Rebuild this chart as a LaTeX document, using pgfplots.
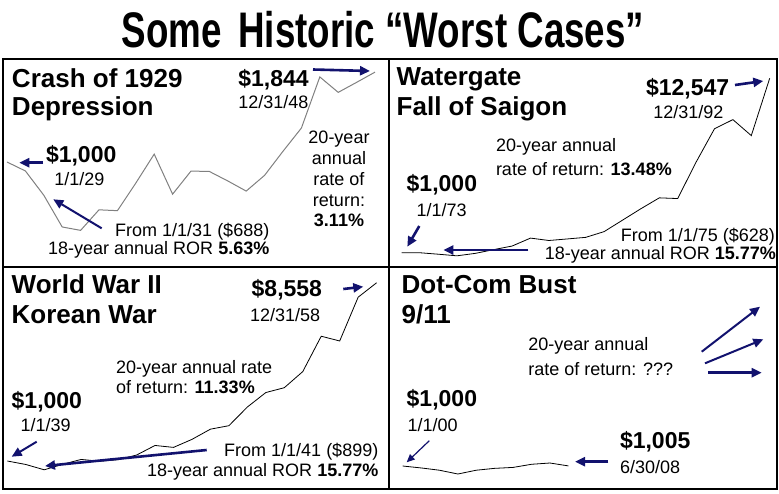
\documentclass[border=0pt]{standalone}
\usepackage{pgfplots}
\pgfplotsset{compat=1.18}
\usepackage{graphicx}
\usepackage{fontspec}
\setmainfont{Liberation Sans}
\usetikzlibrary{arrows.meta}
\definecolor{navy}{RGB}{18,18,110}
\newcommand\rg{\fontsize{18pt}{20pt}\selectfont}
\newcommand\bg{\fontsize{23pt}{25pt}\selectfont\bfseries}
\newcommand\hd{\fontsize{26pt}{28pt}\selectfont\bfseries}
\pgfplotsset{panel/.style={anchor=south west, scale only axis, hide axis, clip=false}}
\begin{document}
\begin{tikzpicture}
% Panel 1: 1929-1948 (index = year offset)
\begin{axis}[panel, at={(3pt,-267pt)}, width=386pt, height=208pt,
  xmin=-0.217, xmax=20.76, ymin=14.05, ymax=1967.2]
\addplot[gray, line width=1pt] table {
0 1000
1 916
2 688
3 390
4 358
5 551
6 543
7 802
8 1074
9 698
10 915
11 911
12 822
13 727
14 875
15 1101
16 1319
17 1799
18 1654
19 1748
20 1844
};
\end{axis}
% Panel 2
\begin{axis}[panel, at={(389pt,-267pt)}, width=388pt, height=208pt,
  xmin=-0.690, xmax=20.397, ymin=53.3, ymax=13823]
\addplot[black, line width=0.8pt] table {
0 1000
1 996
2 899
3 794
4 956
5 1204
6 1441
7 1967
8 1808
9 1911
10 2016
11 2395
12 3154
13 3912
14 4631
15 4585
16 6997
17 9206
18 9810
19 8752
20 12547
};
\end{axis}
% Panel 3
\begin{axis}[panel, at={(3pt,-489pt)}, width=386pt, height=222pt,
  xmin=-0.233, xmax=20.67, ymin=-187.2, ymax=9225.6]
\addplot[black, line width=0.8pt] table {
0 1000
1 853
2 627
3 861
4 1067
5 990
6 1056
7 1252
8 1659
9 1577
10 1917
11 2350
12 2497
13 3289
14 3903
15 4108
16 4791
17 6290
18 6089
19 7946
20 8558
};
\end{axis}
% Panel 4
\begin{axis}[panel, at={(389pt,-489pt)}, width=388pt, height=222pt,
  xmin=-0.745, xmax=20.34, ymin=-81, ymax=10353]
\addplot[black, line width=0.8pt] table {
0 1000
1 909
2 801
3 624
4 803
5 890
6 934
7 1081
8 1141
9 1005
};
\end{axis}
\begin{scope}[x=1pt,y=-1pt, T/.style={inner sep=0pt, outer sep=0pt},
  ar/.style={navy, line width=2.6pt, -{Triangle[length=10pt,width=9pt]}}]
\draw[line width=1.5pt] (3,59) rectangle (777,489);
\draw[line width=1.5pt] (389,59) -- (389,489);
\draw[line width=1.5pt] (3,267) -- (777,267);
% title
\node[T, anchor=base] at (383,47) {\fontsize{50pt}{50pt}\selectfont\scalebox{0.735}[1]{\bfseries Some\hspace{0.45em}Historic “Worst Cases”}};
% panel 1
\node[T, anchor=base west] at (12,87) {\hd Crash of 1929};
\node[T, anchor=base west] at (12,115) {\hd Depression};
\node[T, anchor=base west] at (46,162.7) {\bg \$1,000};
\node[T, anchor=base west] at (54.3,185) {\rg 1/1/29};
\node[T, anchor=base west] at (238.3,86.7) {\bg \$1,844};
\node[T, anchor=base west] at (238.3,108) {\rg 12/31/48};
\node[T, anchor=base east] at (269.3,236.5) {\rg From 1/1/31 (\$688)};
\node[T, anchor=base east] at (269.3,254) {\rg 18-year annual ROR \textbf{5.63\%}};
\node[T, anchor=base] at (339,143.3) {\rg 20-year};
\node[T, anchor=base] at (339,164.3) {\rg annual};
\node[T, anchor=base] at (339,185) {\rg rate of};
\node[T, anchor=base] at (339,206.7) {\rg return:};
\node[T, anchor=base] at (339,226.7) {\rg\bfseries 3.11\%};
\draw[ar] (43,162.7) -- (19.3,162.7);
\draw[ar, line width=2pt] (101.7,228.3) -- (53.3,199.3);
\draw[ar] (313,69.5) -- (370,71);
% panel 2
\node[T, anchor=base west] at (396.7,85) {\hd Watergate};
\node[T, anchor=base west] at (396.7,115) {\hd Fall of Saigon};
\node[T, anchor=base west] at (646,95) {\bg \$12,547};
\node[T, anchor=base west] at (653.3,118.3) {\rg 12/31/92};
\node[T, anchor=base west] at (496,151.7) {\rg 20-year annual};
\node[T, anchor=base west] at (496,175) {\rg rate of return: \textbf{13.48\%}};
\node[T, anchor=base west] at (406.7,191.7) {\bg \$1,000};
\node[T, anchor=base west] at (416.7,216.7) {\rg 1/1/73};
\node[T, anchor=base east] at (775,241) {\rg From 1/1/75 (\$628)};
\node[T, anchor=base east] at (776,259.5) {\rg 18-year annual ROR \textbf{15.77\%}};
\draw[ar] (735,85) -- (763.3,81);
\draw[ar] (419.3,226) -- (407.3,246.7);
\draw[ar] (528.3,250) -- (443.3,250);
% panel 3
\node[T, anchor=base west] at (11.7,293.3) {\hd World War II};
\node[T, anchor=base west] at (11.7,323.3) {\hd Korean War};
\node[T, anchor=base west] at (251.7,296.7) {\bg \$8,558};
\node[T, anchor=base west] at (250,321.7) {\rg 12/31/58};
\node[T, anchor=base west] at (116,373.3) {\rg 20-year annual rate};
\node[T, anchor=base west] at (116,393.3) {\rg of return: \textbf{11.33\%}};
\node[T, anchor=base west] at (11.7,408.3) {\bg \$1,000};
\node[T, anchor=base west] at (20.7,431.7) {\rg 1/1/39};
\node[T, anchor=base east] at (378.3,456.7) {\rg From 1/1/41 (\$899)};
\node[T, anchor=base east] at (378.3,476) {\rg 18-year annual ROR \textbf{15.77\%}};
\draw[ar] (343.3,289) -- (363.3,286.7);
\draw[ar, line width=2pt] (36.7,441.7) -- (11.7,456.7);
\draw[ar] (206.7,450) -- (45,466);
% panel 4
\node[T, anchor=base west] at (401.7,293.3) {\hd Dot-Com Bust};
\node[T, anchor=base west] at (401.7,323.3) {\hd 9/11};
\node[T, anchor=base west] at (528.3,350.7) {\rg 20-year annual};
\node[T, anchor=base west] at (528.3,375) {\rg rate of return: ???};
\node[T, anchor=base west] at (406.7,406.7) {\bg \$1,000};
\node[T, anchor=base west] at (407.5,431.7) {\rg 1/1/00};
\node[T, anchor=base west] at (620,448.3) {\bg \$1,005};
\node[T, anchor=base west] at (620,473.3) {\rg 6/30/08};
\draw[ar, line width=2pt] (701.7,351.7) -- (760,306.7);
\draw[ar, line width=2pt] (705,363.3) -- (763.3,339.3);
\draw[ar] (708.3,372.7) -- (761.7,372.7);
\draw[ar, line width=1.2pt, -{Triangle[length=8pt,width=7pt]}] (429.3,440.7) -- (406.7,462.3);
\draw[ar] (608.3,461.7) -- (575,461.7);
\end{scope}
\pgfresetboundingbox
\path[use as bounding box] (0pt,0pt) rectangle (779pt,-493pt);
\end{tikzpicture}
\end{document}
